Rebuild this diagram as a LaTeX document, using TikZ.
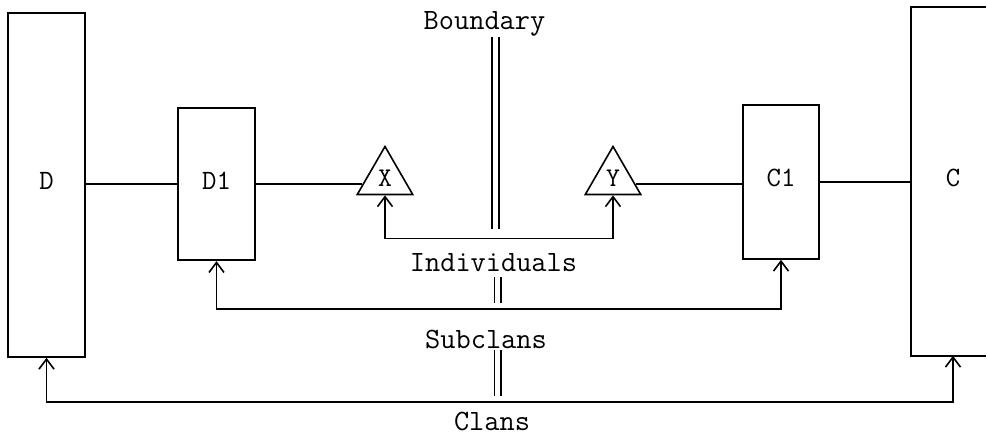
\documentclass[tikz,border=0pt]{standalone}
\usetikzlibrary{arrows.meta,shapes.geometric,calc}
\begin{document}
\begin{tikzpicture}[x=1pt,y=-1pt,line width=1.6pt,
  box/.style={draw,rectangle,inner sep=0pt,text depth=8pt,font=\fontsize{28}{29}\selectfont\ttfamily},
  tri/.style={draw,regular polygon,regular polygon sides=3,minimum size=64pt,inner sep=0pt,font=\fontsize{27}{28}\selectfont\ttfamily},
  lbl/.style={anchor=base,inner sep=0pt,font=\fontsize{29.5}{30}\selectfont\ttfamily},
  barb/.tip={Straight Barb[length=10pt,width=15pt,line width=1.6pt]},
  link/.style={barb-barb},
  bound/.style={line width=1.5pt}]
\useasboundingbox (0,0) rectangle (987,435);
% boxes
\node[box,minimum width=77pt,minimum height=344pt] (D) at (46.5,185) {D};
\node[box,minimum width=77pt,minimum height=152pt] (D1) at (216.5,184.3) {D1};
\node[box,minimum width=76pt,minimum height=154pt] (C1) at (781,182) {C1};
\node[inner sep=0pt,text depth=8pt,minimum width=82pt,minimum height=347pt,font=\fontsize{28}{29}\selectfont\ttfamily] (C) at (953,181.5) {C};
\draw ([xshift=75pt]C.north west) -- (C.north west) -- (C.south west) -- ([xshift=75pt]C.south west);
% triangles
\node[tri] (X) at (385,178.5) {X};
\node[tri] (Y) at (613,178.5) {Y};
\coordinate (Xl) at ($(X.corner 2)!0.22!(X.corner 1)$);
\coordinate (Yr) at ($(Y.corner 3)!0.22!(Y.corner 1)$);
% horizontal links
\draw (D.east |- D1.west) -- (D1.west);
\draw (D1.east |- Xl) -- (Xl);
\draw (Yr) -- (Yr -| C1.west);
\draw (C1.east) -- (C1.east -| C.west);
% labels
\node[lbl] (bnd) at (484.5,30) {Boundary};
\node[lbl] (ind) at (493.5,272) {Individuals};
\node[lbl] (sub) at (486,348) {Subclans};
\node[lbl] (cla) at (492,430) {Clans};
% arrows
\draw[link] (X.south) -- ++(0,43) coordinate (xi) -| (Y.south);
\draw[link] (D1.south) -- (D1.south |- 0,309) coordinate (ds) -| (C1.south);
\draw[link] (D.south) -- (D.south |- 0,402) coordinate (dc) -| (C.south);
% boundary double lines
\draw[bound] (492,37) -- (492,229);
\draw[bound] (499,37) -- (499,229);
\draw[bound] (494.5,277) -- (494.5,303);
\draw[bound] (501,277) -- (501,303);
\draw[bound] (494.5,350) -- (494.5,396);
\draw[bound] (501,350) -- (501,396);
\end{tikzpicture}
\end{document}
